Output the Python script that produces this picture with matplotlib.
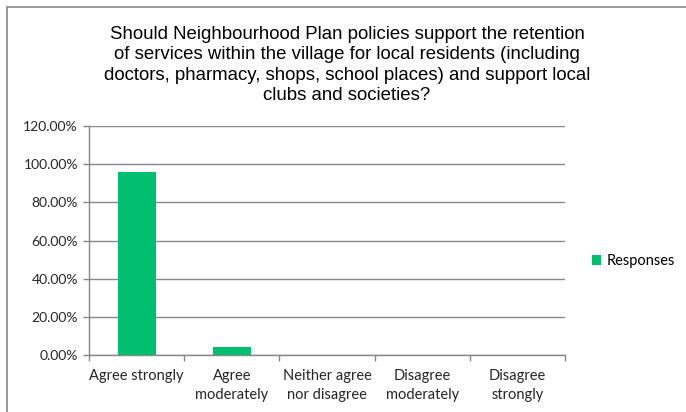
import matplotlib.pyplot as plt
from matplotlib.patches import Rectangle
from matplotlib.ticker import PercentFormatter

# survey answers
categories = ['Agree strongly', 'Agree\nmoderately', 'Neither agree\nnor disagree',
              'Disagree\nmoderately', 'Disagree\nstrongly']
responses = [95.65, 4.35, 0.0, 0.0, 0.0]
yticks = [0, 20, 40, 60, 80, 100, 120]

title = ('Should Neighbourhood Plan policies support the retention\n'
         'of services within the village for local residents (including\n'
         'doctors, pharmacy, shops, school places) and support local\n'
         'clubs and societies?')

bar_color = '#00BF6F'
grid_color = '#878787'
label_font = ['Lato', 'DejaVu Sans']

fig = plt.figure(figsize=(6.86, 4.12), dpi=100)
ax = fig.add_axes([0.1297, 0.1383, 0.6939, 0.5559])

x = range(len(categories))
ax.bar(x, responses, width=0.4, color=bar_color, label='Responses', zorder=3)

ax.set_xlim(-0.5, len(categories) - 0.5)
ax.set_ylim(0, 120)
ax.set_yticks(yticks)
ax.yaxis.set_major_formatter(PercentFormatter(decimals=2))
ax.yaxis.grid(True, color=grid_color, linewidth=1)
ax.set_axisbelow(True)

ax.set_xticks(list(x))
ax.set_xticklabels(categories, fontsize=10.5, family=label_font, color='#262626',
                   linespacing=1.45)
ax.set_xticks([i - 0.5 for i in range(len(categories) + 1)], minor=True)
ax.tick_params(axis='x', which='major', length=0, pad=10)
ax.tick_params(axis='x', which='minor', length=4, color=grid_color, width=1)
ax.tick_params(axis='y', length=4, color=grid_color, width=1, pad=4)
for lab in ax.get_yticklabels():
    lab.set_family(label_font)
    lab.set_fontsize(10)
    lab.set_color('#262626')

for side in ['top', 'right']:
    ax.spines[side].set_visible(False)
for side in ['left', 'bottom']:
    ax.spines[side].set_color(grid_color)
    ax.spines[side].set_linewidth(1)

fig.text(0.506, 0.937, title, ha='center', va='top', fontsize=13.4,
         family='Liberation Sans', linespacing=1.27)

leg = ax.legend(loc='center left', bbox_to_anchor=(1.03, 0.41), frameon=False,
                handlelength=0.6, handleheight=0.6, handletextpad=0.4,
                prop={'family': label_font, 'size': 10.5})

# outer chart border
fig.patches.append(Rectangle((7 / 686, -0.1), 1.2, 1 - 7 / 412 + 0.1,
                             transform=fig.transFigure, fill=False,
                             edgecolor='#878787', linewidth=1.2))

fig.savefig('out.png', dpi=100)
